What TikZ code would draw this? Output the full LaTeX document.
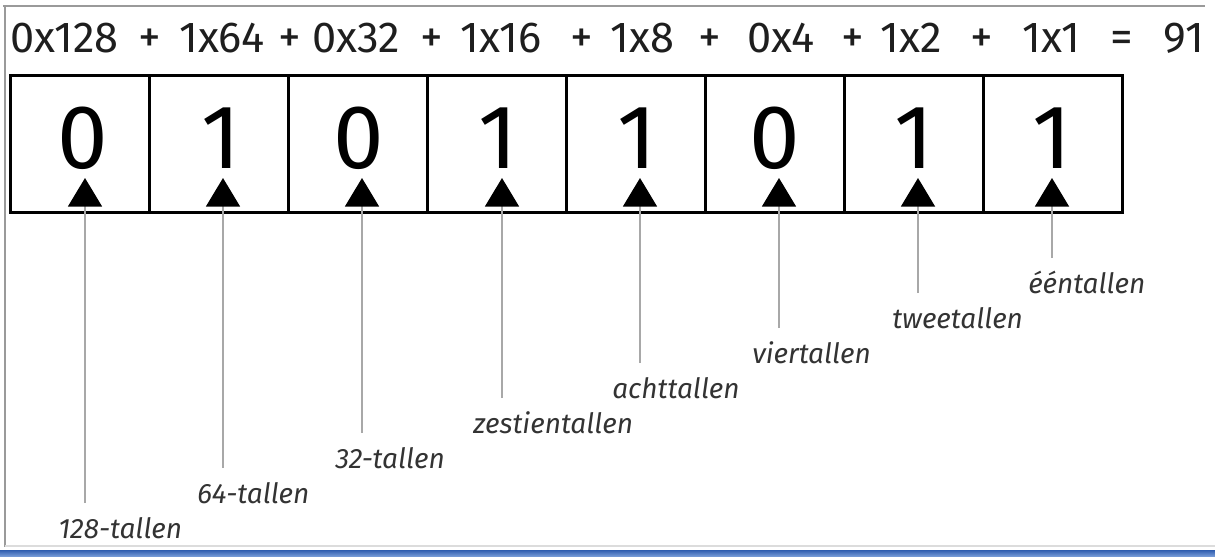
\documentclass[tikz,border=0pt]{standalone}
\usepackage{fontspec}
\setmainfont{Fira Sans}
\usetikzlibrary{arrows.meta,calc}
\definecolor{ink}{HTML}{1E1E1E}
\definecolor{lblink}{HTML}{333333}
\definecolor{connc}{HTML}{A8A8A8}
\definecolor{chromec}{HTML}{9A9A9A}
\definecolor{chromel}{HTML}{DCDCDC}
\definecolor{bartop}{HTML}{2E5CAE}
\definecolor{barbot}{HTML}{7FA2DC}
\tikzset{
  cell/.style={draw=black, line width=2.25pt, minimum width=104.25pt, minimum height=102.75pt, inner sep=0pt},
  bigdigit/.style={anchor=base, inner sep=0pt, font=\fontsize{68}{70}\selectfont, text=black},
  term/.style={anchor=base west, inner sep=0pt, font=\fontsize{32.5}{36}\selectfont, text=ink},
  opsym/.style={anchor=base, inner sep=0pt, font=\fontsize{34}{36}\selectfont, text=ink},
  lbl/.style={anchor=base west, inner sep=0pt, font=\fontsize{21}{25}\selectfont\itshape, text=lblink},
  conn/.style={draw=connc, line width=1.5pt, -{Triangle[black, length=21.5pt, width=25.5pt]}},
  chrome/.style={draw=chromec, line width=1.5pt}
}
\begin{document}
\begin{tikzpicture}[x=0.75pt,y=-0.75pt]
\useasboundingbox (0,0) rectangle (1215,557);
% window chrome
\draw[chrome] (3,6) -- (1205,6);
\draw[chrome] (5,6) -- (5,547);
\draw[draw=chromel, line width=1.5pt] (5,546) -- (1215,546);
\shade[top color=bartop, bottom color=barbot] (0,550) rectangle (1215,557);

% equation
\node[term]  (e1)  at (10,52)   {0x128};
\node[opsym] (e2)  at (150,52)  {+};
\node[term]  (e3)  at (179,52)  {1x64};
\node[opsym] (e4)  at (290,52)  {+};
\node[term]  (e5)  at (312,52)  {0x32};
\node[opsym] (e6)  at (432,52)  {+};
\node[term]  (e7)  at (460,52)  {1x16};
\node[opsym] (e8)  at (582,52)  {+};
\node[term]  (e9)  at (610,52)  {1x8};
\node[opsym] (e10) at (710,52)  {+};
\node[term]  (e11) at (747,52)  {0x4};
\node[opsym] (e12) at (853,52)  {+};
\node[term]  (e13) at (880,52)  {1x2};
\node[opsym] (e14) at (982,52)  {+};
\node[term]  (e15) at (1022,52) {1x1};
\node[opsym] (e16) at (1122,52) {=};
\node[term]  (e17) at (1163,52) {91};

% cells
\foreach \i in {1,...,8} {
  \node[cell] (c\i) at ({80+139*(\i-1)},143.5) {};
}
% digits
\node[bigdigit] (d1) at (83,168)   {0};
\node[bigdigit] (d2) at (221,168)  {1};
\node[bigdigit] (d3) at (359,168)  {0};
\node[bigdigit] (d4) at (498,168)  {1};
\node[bigdigit] (d5) at (637,168)  {1};
\node[bigdigit] (d6) at (775,168)  {0};
\node[bigdigit] (d7) at (914,168)  {1};
\node[bigdigit] (d8) at (1052,168) {1};

% arrow tips
\coordinate (a1) at (85,178);
\coordinate (a2) at (223,178);
\coordinate (a3) at (362,178);
\coordinate (a4) at (502,178);
\coordinate (a5) at (640,178);
\coordinate (a6) at (779,178);
\coordinate (a7) at (918,178);
\coordinate (a8) at (1052,178);

% labels
\node[lbl] (l1) at (58,538)   {128-tallen};
\node[lbl] (l2) at (197,503)  {64-tallen};
\node[lbl] (l3) at (335,468)  {32-tallen};
\node[lbl] (l4) at (473,433)  {zestientallen};
\node[lbl] (l5) at (612,398)  {achttallen};
\node[lbl] (l6) at (752,363)  {viertallen};
\node[lbl] (l7) at (892,328)  {tweetallen};
\node[lbl] (l8) at (1028,293) {ééntallen};

% connectors
\foreach \i in {1,...,8} {
  \draw[conn] ($(a\i |- l\i.base)+(0,-35)$) -- (a\i);
}
\end{tikzpicture}
\end{document}
